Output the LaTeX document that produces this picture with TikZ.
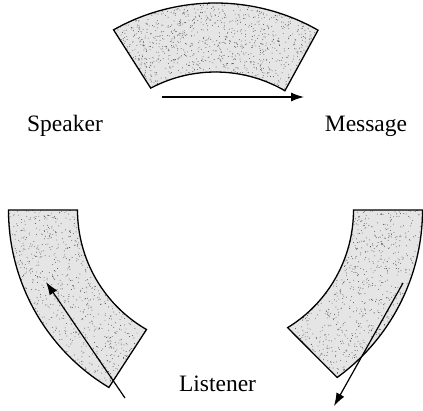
\documentclass[tikz,border=0pt]{standalone}
\usepackage{fontspec}
\newfontfamily\lblfont{Liberation Serif}
\usetikzlibrary{arrows.meta}
\begin{document}
\begin{tikzpicture}[x=1pt,y=-1pt,
  band/.style={draw=black, line width=1.3pt, line join=miter},
  bandfill/.style={fill=black!10},
  speck/.style={fill=black!70},
  flow/.style={line width=1.2pt, -{Latex[length=13pt,width=9pt]}},
  lbl/.style={font=\lblfont\fontsize{23.5}{28}\selectfont, inner sep=0pt, anchor=base}]
\useasboundingbox (0,0) rectangle (423,410);
\coordinate (O) at (215.5,210);
\def\Ro{207}
\def\Ri{138}
\def\topband{([shift={(O)}]-119.5:\Ro) arc[start angle=-119.5, end angle=-60.3, radius=\Ro]
  -- ([shift={(O)}]-59.8:\Ri) arc[start angle=-59.8, end angle=-118, radius=\Ri] -- cycle}
\def\leftband{([shift={(O)}]180:\Ro) arc[start angle=180, end angle=121, radius=\Ro]
  -- ([shift={(O)}]120:\Ri) arc[start angle=120, end angle=180, radius=\Ri] -- cycle}
\def\rightband{([shift={(O)}]0:\Ro) arc[start angle=0, end angle=54, radius=\Ro]
  -- ([shift={(O)}]58.5:\Ri) arc[start angle=58.5, end angle=0, radius=\Ri] -- cycle}
\pgfmathsetseed{7}
% top band (speaker -> message)
\path[bandfill] \topband;
\begin{scope}
  \clip \topband;
  \foreach \i in {1,...,1500} {\fill[speck] (110+212*rnd,2+92*rnd) circle (0.45pt);}
\end{scope}
\path[band] \topband;
% lower left band (listener -> speaker)
\path[bandfill] \leftband;
\begin{scope}
  \clip \leftband;
  \foreach \i in {1,...,1500} {\fill[speck] (6+144*rnd,208+180*rnd) circle (0.45pt);}
\end{scope}
\path[band] \leftband;
% lower right band (message -> listener)
\path[bandfill] \rightband;
\begin{scope}
  \clip \rightband;
  \foreach \i in {1,...,1500} {\fill[speck] (282+141*rnd,208+180*rnd) circle (0.45pt);}
\end{scope}
\path[band] \rightband;
% labels
\node[lbl] (speaker) at (65,131) {Speaker};
\node[lbl] (message) at (366,131) {Message};
\node[lbl] (listener) at (217.5,391) {Listener};
% arrows
\coordinate (a1s) at (162,97);
\coordinate (a1e) at (304,97);
\coordinate (a2s) at (125,398);
\coordinate (a2e) at (46,282);
\coordinate (a3s) at (403,283);
\coordinate (a3e) at (334,406);
\draw[flow] (a1s) -- (a1e);
\draw[flow] (a2s) -- (a2e);
\draw[flow] (a3s) -- (a3e);
\end{tikzpicture}
\end{document}
